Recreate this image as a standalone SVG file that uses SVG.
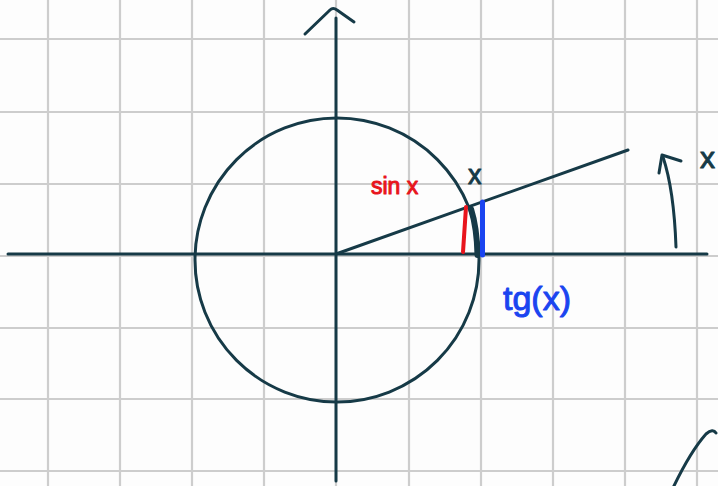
<svg xmlns="http://www.w3.org/2000/svg" width="718" height="486" viewBox="0 0 718 486">
<style>
.grid line{stroke:#cdcdcd;stroke-width:2.2}
.ink{fill:none;stroke:#163a47;stroke-width:3;stroke-linecap:round;stroke-linejoin:round}
.lbl text{font-family:"Liberation Sans",Arial,sans-serif;stroke-width:1;stroke-linejoin:round}
</style>
<rect width="718" height="486" fill="#fdfdfd"/>
<g id="grid" class="grid">
<line x1="48" y1="0" x2="48" y2="486"/>
<line x1="120" y1="0" x2="120" y2="486"/>
<line x1="192" y1="0" x2="192" y2="486"/>
<line x1="264" y1="0" x2="264" y2="486"/>
<line x1="336" y1="0" x2="336" y2="486"/>
<line x1="409" y1="0" x2="409" y2="486"/>
<line x1="481" y1="0" x2="481" y2="486"/>
<line x1="553" y1="0" x2="553" y2="486"/>
<line x1="625" y1="0" x2="625" y2="486"/>
<line x1="697" y1="0" x2="697" y2="486"/>
<line x1="0" y1="39" x2="718" y2="39"/>
<line x1="0" y1="112" x2="718" y2="112"/>
<line x1="0" y1="184" x2="718" y2="184"/>
<line x1="0" y1="256" x2="718" y2="256"/>
<line x1="0" y1="328" x2="718" y2="328"/>
<line x1="0" y1="399" x2="718" y2="399"/>
<line x1="0" y1="471" x2="718" y2="471"/>
</g>
<g id="axes" class="ink">
<line x1="8" y1="254" x2="707" y2="254"/>
<line x1="336" y1="18" x2="336" y2="481"/>
<path d="M305,34 L330,10 Q333,7 337,10 L354,22"/>
</g>
<g id="circle">
<circle class="ink" cx="337" cy="260" r="142"/>
</g>
<g id="ray" class="ink">
<line x1="336" y1="254" x2="628" y2="150"/>
</g>
<g id="segments" fill="none" stroke-linecap="round">
<path d="M466,207 L463,252" stroke="#e8141c" stroke-width="4"/>
<path d="M471,209 Q477,228 477.5,255" stroke="#163a47" stroke-width="6"/>
<path d="M482.5,202 L482.5,255" stroke="#1a44f0" stroke-width="5"/>
</g>
<g id="angle-arrow" class="ink">
<path d="M676,247 Q674,190 663,157"/>
<path d="M659,173 L662,155 L681,161"/>
</g>
<g id="corner-arc" class="ink">
<path d="M672,490 Q690,452 706,434 Q713,428 716,433"/>
</g>
<g id="labels" class="lbl">
<text x="371" y="194" font-size="23" fill="#e8141c" stroke="#e8141c">sin x</text>
<text x="468" y="184" font-size="27" fill="#163a47" stroke="#163a47">x</text>
<text x="700" y="168" font-size="30" fill="#163a47" stroke="#163a47">x</text>
<text x="503" y="310" font-size="34" fill="#1a44f0" stroke="#1a44f0">tg(x)</text>
</g>
</svg>
